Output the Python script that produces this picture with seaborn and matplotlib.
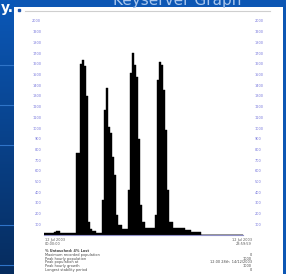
import numpy as np
import pandas as pd
import matplotlib
matplotlib.use("Agg")
import matplotlib.pyplot as plt
import seaborn as sns

# Keyserver population per time bin (100 bins across the graph)
population = [
    15, 18, 20, 22, 20, 30, 37, 35, 22, 18,
    15, 15, 15, 15, 15, 15, 766, 766, 1600, 1636,
    1580, 1300, 120, 60, 40, 40, 20, 20, 20, 327,
    1168, 1374, 1009, 953, 729, 560, 187, 93, 93, 56,
    56, 56, 420, 1514, 1700, 1589, 1477, 900, 280, 121,
    121, 65, 65, 65, 65, 65, 187, 1449, 1617, 1590,
    1355, 981, 420, 121, 121, 65, 65, 65, 65, 65,
    65, 47, 47, 47, 28, 28, 28, 28, 28, 0,
    0, 0, 0, 0, 0, 0, 0, 0, 0, 0,
    0, 0, 0, 0, 0, 0, 0, 0, 0, 0,
]
y_ticks = list(range(100, 2001, 100))
start_label = ["12 Jul 2003", "00:00:00"]
end_label = ["12 Jul 2003", "23:59:59"]
stat_names = ["% Untouched: 4% Lost", "Maximum recorded population",
              "Peak hourly population", "Peak population at",
              "Peak hourly growth", "Longest stability period"]
stat_values = ["", "0", "1000", "12:00 28th  14/12/2003", "1000", "0"]

W, H = 286, 274
fig = plt.figure(figsize=(W / 100, H / 100), dpi=100)
fig.patch.set_facecolor("#0d57b4")

def px(x0, y0, x1, y1):
    return [x0 / W, 1 - y1 / H, (x1 - x0) / W, (y1 - y0) / H]

# left gradient strip
strip = fig.add_axes(px(0, 0, 15, H))
grad = np.linspace(0, 1, 256).reshape(-1, 1)
cmap = matplotlib.colors.LinearSegmentedColormap.from_list("g", ["#0b58b8", "#062c5e"])
strip.imshow(grad, aspect="auto", cmap=cmap, extent=(0, 1, H, 0))
for yy in [65, 105, 145, 225, 265]:
    strip.plot([0, 1], [yy, yy], color="#2f74c8", lw=0.8)
strip.set_xlim(0, 1); strip.set_ylim(H, 0)
strip.set_xticks([]); strip.set_yticks([])
for s in strip.spines.values():
    s.set_visible(False)

# white panel
panel = fig.add_axes(px(14, 7, 283, H))
panel.set_facecolor("white")
panel.set_xticks([]); panel.set_yticks([])
for s in panel.spines.values():
    s.set_visible(False)
panel.set_xlim(14, 283); panel.set_ylim(H, 7)
panel.plot([25, 270], [11, 11], color="#cfcfcf", lw=0.8)
panel.plot([19], [10], marker="s", ms=1.5, color="#1f55ad")

fig.text(177 / W, 1 - 5 / H, "Keyserver Graph", color="#a9c6ec", fontsize=11,
         ha="center", va="baseline")
fig.text(1 / W, 1 - 8 / H, "y.", color="white", fontsize=10, weight="bold",
         ha="left", va="center")

# main chart
ax = fig.add_axes(px(44, 21, 243, 235))
ax.patch.set_alpha(0)
nb = len(population)
df = pd.DataFrame({"t": np.arange(nb) + 0.5, "n": population})
sns.histplot(data=df, x="t", weights="n", bins=nb, binrange=(0, nb),
             element="step", fill=True, color="black", alpha=1,
             linewidth=0.3, ax=ax)
ax.set_xlim(0, nb)
ax.set_ylim(0, 2000)
ax.set_yticks(y_ticks)
ax.set_yticklabels([str(v) for v in y_ticks])
ax.tick_params(axis="y", length=0, labelsize=2.5, labelcolor="#7474dc",
               labelright=True, pad=2)
ax.set_xticks([])
ax.set_xlabel(""); ax.set_ylabel("")
for side in ["top", "left", "right"]:
    ax.spines[side].set_visible(False)
ax.spines["bottom"].set_color("#9090c8")
ax.spines["bottom"].set_linewidth(0.8)
for tick in ax.yaxis.get_major_ticks():
    tick.label2.set_x(1.045)

# bottom labels
fig.text(45 / W, 1 - 240 / H, start_label[0], fontsize=2.5, color="#555555", ha="left", va="center")
fig.text(45 / W, 1 - 244 / H, start_label[1], fontsize=2.5, color="#555555", ha="left", va="center")
fig.text(252 / W, 1 - 240 / H, end_label[0], fontsize=2.5, color="#555555", ha="right", va="center")
fig.text(252 / W, 1 - 244 / H, end_label[1], fontsize=2.5, color="#555555", ha="right", va="center")
for i, (n, v) in enumerate(zip(stat_names, stat_values)):
    y = 251 + i * 3.8
    fig.text(45 / W, 1 - y / H, n, fontsize=2.5, color="#444444",
             weight="bold" if i == 0 else "normal", ha="left", va="center")
    fig.text(252 / W, 1 - y / H, v, fontsize=2.5, color="#444444", ha="right", va="center")

fig.savefig("out.png", dpi=100, facecolor=fig.get_facecolor())
